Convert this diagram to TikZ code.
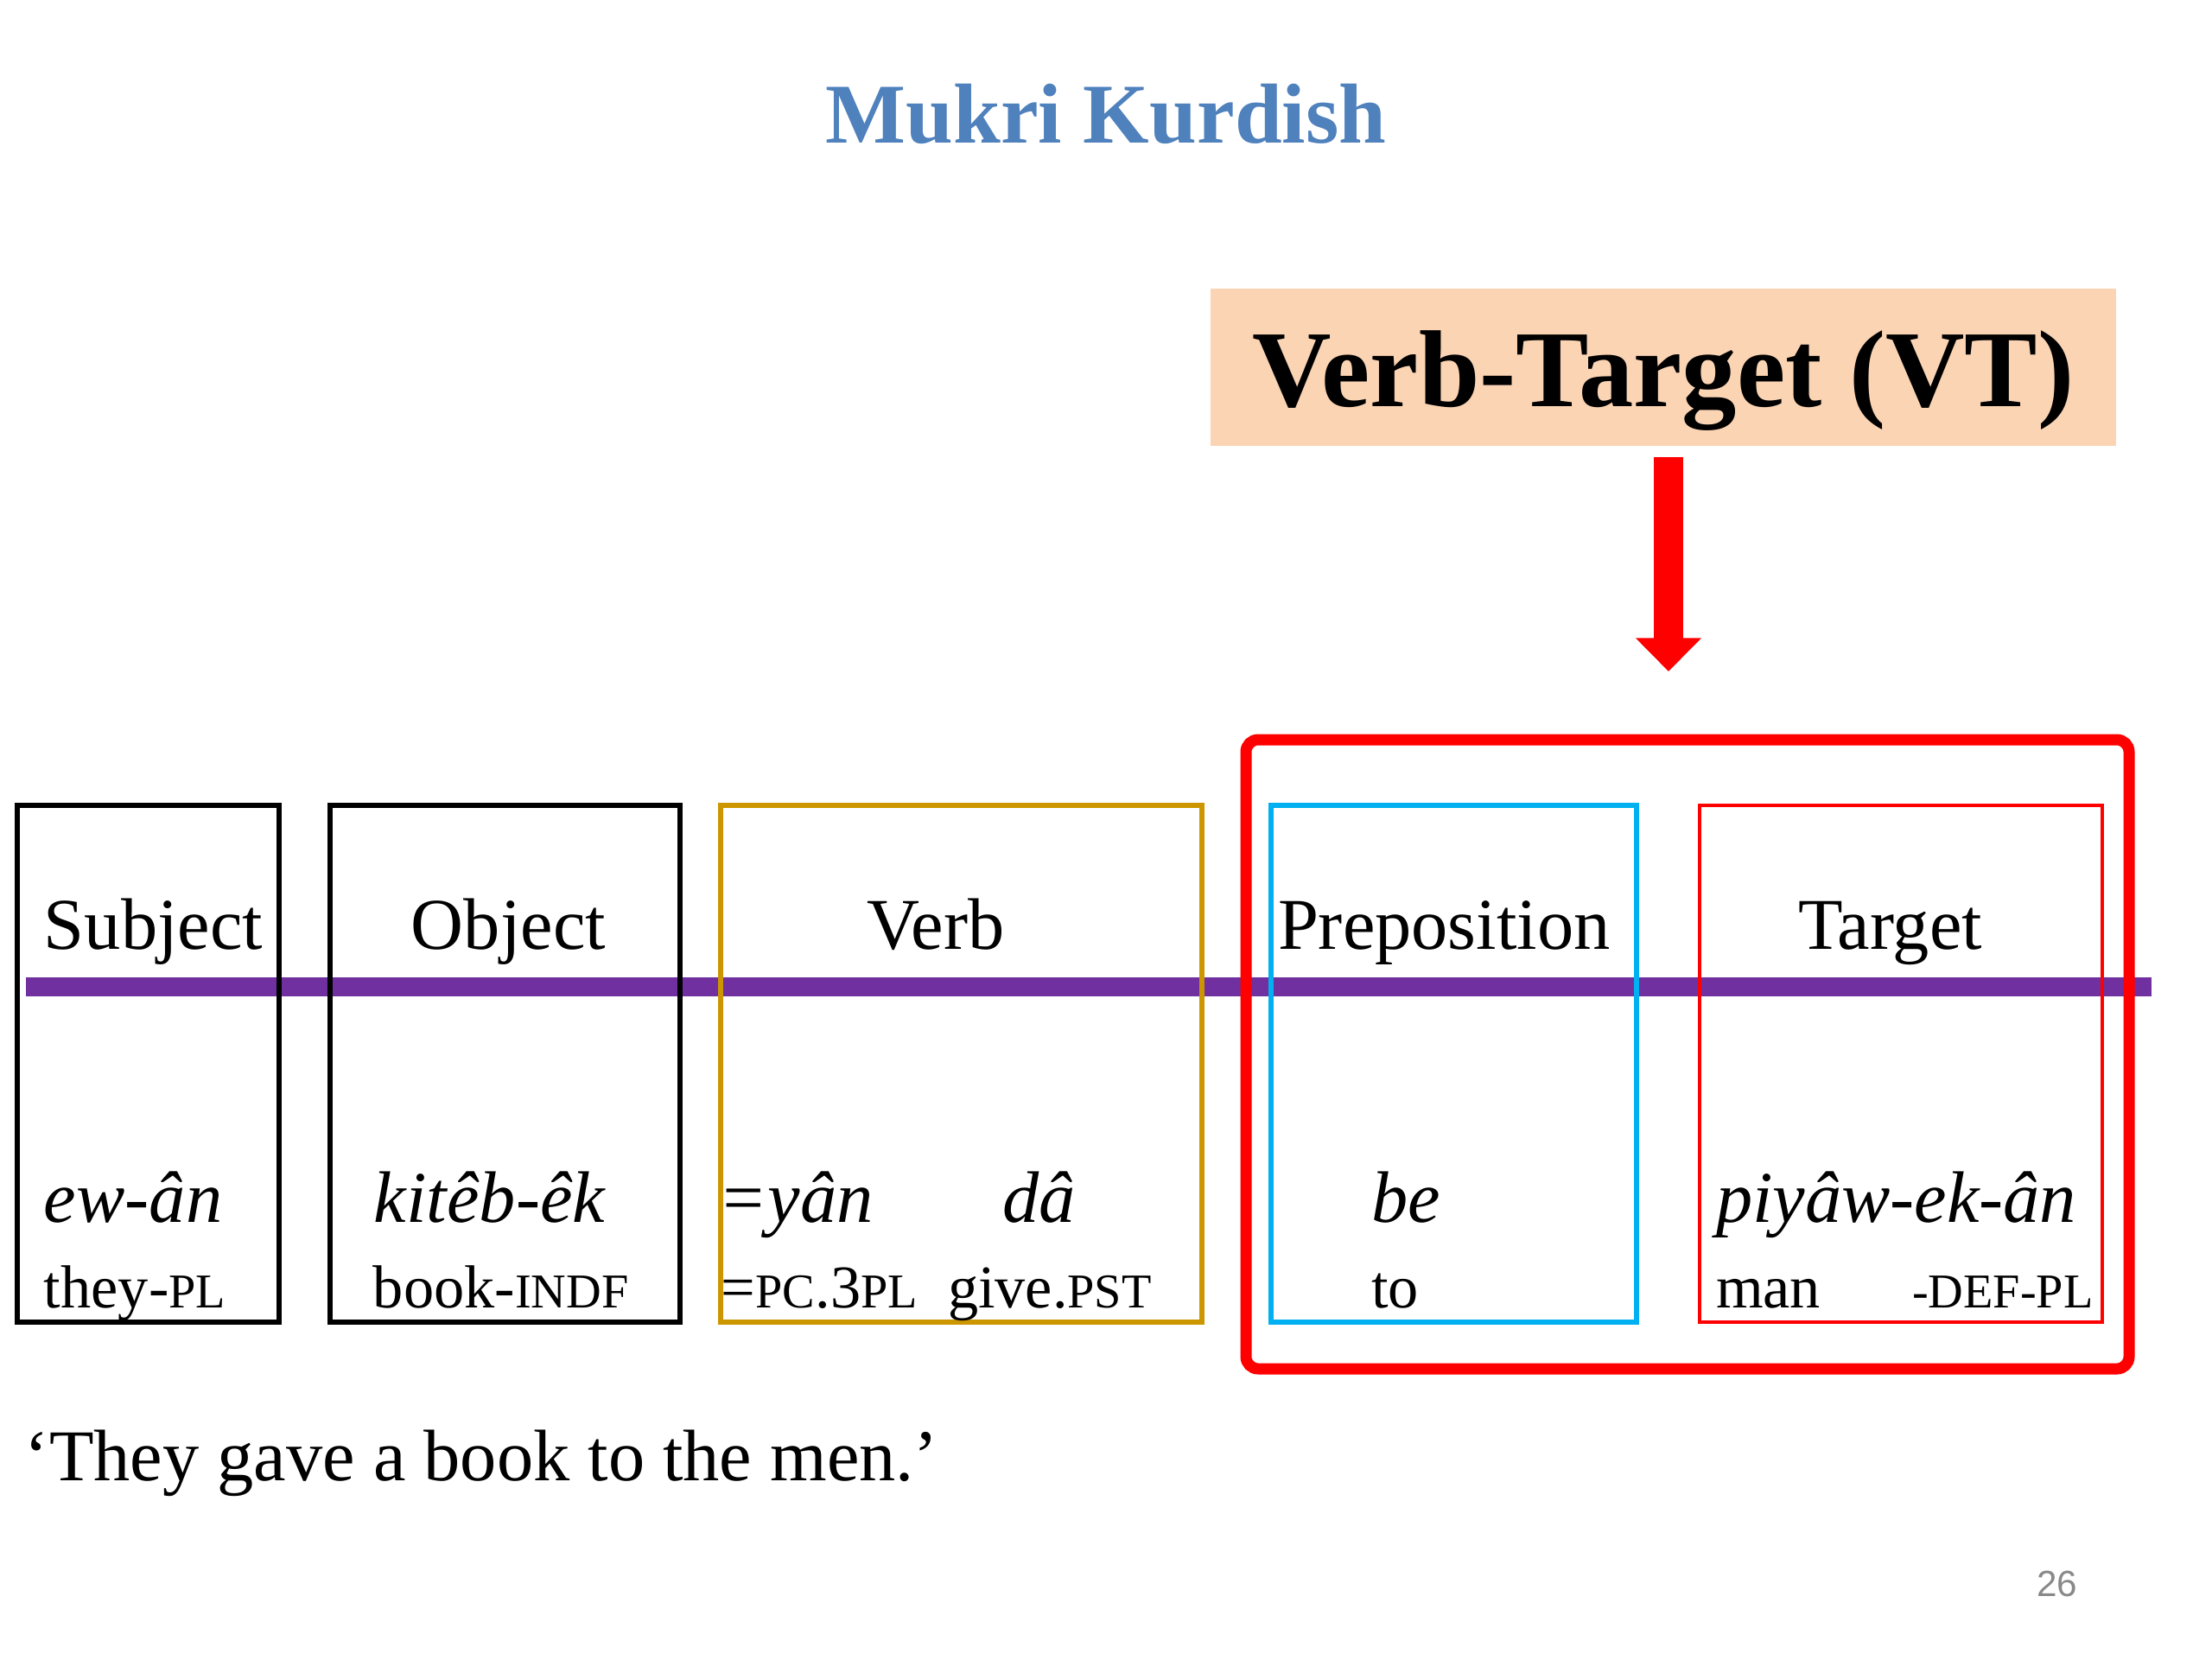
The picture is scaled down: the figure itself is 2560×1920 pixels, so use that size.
\documentclass[tikz,border=0pt]{standalone}
\usepackage{fontspec}
\setmainfont{Liberation Serif}
\newfontfamily\slidenum{Liberation Sans}
\usetikzlibrary{arrows.meta}
\definecolor{titleblue}{HTML}{4F81BD}
\definecolor{vtpeach}{HTML}{FBD4B4}
\definecolor{linepurple}{HTML}{7030A0}
\definecolor{verbgold}{RGB}{204,150,0}
\definecolor{prepcyan}{HTML}{00B0F0}
\newcommand{\gsc}[1]{{\fontsize{16}{16}\selectfont #1}}
\begin{document}
\begin{tikzpicture}[x=0.01cm,y=-0.01cm,line width=1.7pt,every node/.style={inner sep=0pt,anchor=base west,font=\fontsize{24}{28}\selectfont}]
\useasboundingbox (0,0) rectangle (2560,1920);
\coordinate (T) at (1931,777);
\node[anchor=base,font=\bfseries\fontsize{28}{32}\selectfont,text=titleblue] (title) at (1280,165) {Mukri Kurdish};
\node[anchor=base,fill=vtpeach,minimum width=10.48cm,minimum height=1.81cm,text height=30pt,text depth=4.4pt,font=\bfseries\fontsize{36}{40}\selectfont] (vt) at (1925,470) {Verb-Target (VT)};
\draw[red,line width=9.5pt,shorten <=3pt,-{Triangle[width=21pt,length=11pt]}] (T |- vt.south) -- (T);
\draw[linepurple,line width=6.3pt] (30,1142) -- (2490,1142);
\draw (20,932) rectangle (323,1530);
\draw (382,932) rectangle (787,1530);
\draw[verbgold,line width=1.5pt] (834,932) rectangle (1391,1530);
\draw[prepcyan,line width=1.6pt] (1471,932) rectangle (1894,1530);
\draw[red,line width=1.1pt] (1967,932) rectangle (2433,1530);
\draw[red,line width=3.7pt,rounded corners=4pt] (1442,856) rectangle (2464,1584);
\node (subjlbl) at (48,1098) {Subject};
\node (objlbl) at (473,1098) {Object};
\node (verblbl) at (1000,1098) {Verb};
\node (preplbl) at (1476,1098) {Preposition};
\node (targlbl) at (2078,1098) {Target};
\begin{scope}[every node/.append style={font=\itshape\fontsize{24}{28}\selectfont}]
\node (ewan) at (48,1414) {ew-ân};
\node (kiteb) at (430,1414) {kitêb-êk};
\node (yan) at (829,1414) {=yân};
\node (da) at (1157,1414) {dâ};
\node (be) at (1584,1414) {be};
\node (piyaw) at (1983,1414) {piyâw-ek-ân};
\end{scope}
\begin{scope}[every node/.append style={font=\fontsize{20}{24}\selectfont}]
\node (they) at (48,1513) {they-\gsc{PL}};
\node (book) at (429,1513) {book-\gsc{INDF}};
\node (pc) at (832,1513) {=\gsc{PC}.3\gsc{PL}};
\node (give) at (1094,1513) {give.\gsc{PST}};
\node (to) at (1584,1513) {to};
\node (man) at (1983,1513) {man};
\node (defpl) at (2210,1513) {\gsc{-DEF-PL}};
\end{scope}
\node (transl) at (26,1713) {‘They gave a book to the men.’};
\node[font=\slidenum\fontsize{12}{14}\selectfont,text={rgb,255:red,137;green,137;blue,137}] (pagenum) at (2354,1847) {26};
\end{tikzpicture}
\end{document}
